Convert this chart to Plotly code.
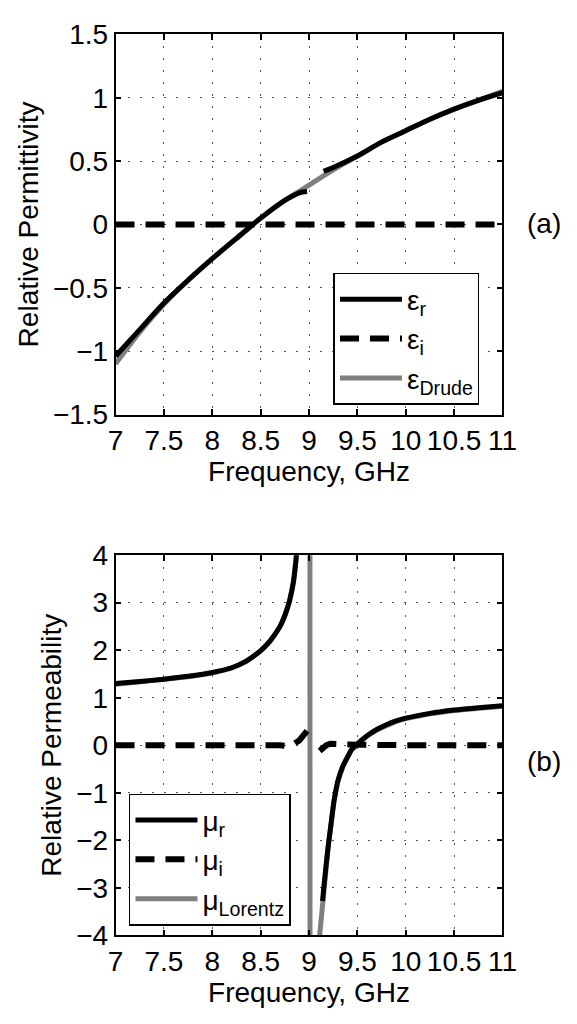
import plotly.graph_objects as go

# ---------------- data: (a) permittivity ----------------
freq_drude = [7.0, 7.25, 7.5, 7.75, 8.0, 8.25, 8.5, 8.75, 9.0, 9.25, 9.5, 9.75, 10.0, 10.25, 10.5, 10.75, 11.0]
eps_drude = [-1.10, -0.85, -0.63, -0.44, -0.27, -0.11, 0.05, 0.19, 0.31, 0.43, 0.54, 0.65, 0.74, 0.83, 0.91, 0.98, 1.05]

freq_eps_r = [7.0, 7.25, 7.5, 7.75, 8.0, 8.25, 8.5, 8.75, 8.9, 8.98, None,
              9.15, 9.25, 9.5, 9.75, 10.0, 10.25, 10.5, 10.75, 11.0]
eps_r = [-1.04, -0.83, -0.62, -0.44, -0.27, -0.11, 0.05, 0.19, 0.25, 0.26, None,
         0.42, 0.45, 0.54, 0.65, 0.74, 0.83, 0.91, 0.98, 1.04]

freq_eps_i = [7.0, 8.0, 9.0, 10.0, 11.0]
eps_i = [0.0, 0.0, 0.0, 0.0, 0.0]

# ---------------- data: (b) permeability ----------------
freq_mu_r = [7.0, 7.25, 7.5, 7.75, 8.0, 8.2, 8.35, 8.5, 8.6, 8.7, 8.75, 8.8, 8.84, 8.87, 8.89, None,
             9.14, 9.16, 9.18, 9.2, 9.22, 9.26, 9.3, 9.35, 9.4, 9.44, 9.5, 9.6, 9.7, 9.8, 9.9,
             10.0, 10.25, 10.5, 10.75, 11.0]
mu_r = [1.30, 1.34, 1.39, 1.45, 1.53, 1.63, 1.77, 1.99, 2.20, 2.50, 2.73, 3.05, 3.45, 4.0, 4.6, None,
        -3.28, -2.85, -2.46, -2.10, -1.78, -1.15, -0.74, -0.44, -0.24, -0.09, 0.03, 0.20, 0.33, 0.43, 0.51,
        0.57, 0.67, 0.74, 0.79, 0.83]

freq_mu_lor = [7.0, 7.25, 7.5, 7.75, 8.0, 8.2, 8.35, 8.5, 8.6, 8.7, 8.75, 8.8, 8.84, 8.87, 8.95, 9.005,
               9.015, 9.07, 9.11, 9.14, 9.16, 9.18, 9.2, 9.22, 9.26, 9.3, 9.35, 9.4, 9.44, 9.5, 9.6,
               9.7, 9.8, 9.9, 10.0, 10.25, 10.5, 10.75, 11.0]
mu_lor = [1.28, 1.33, 1.38, 1.44, 1.52, 1.62, 1.76, 1.98, 2.19, 2.49, 2.72, 3.04, 3.45, 4.0, 9.0, 80.0,
          -80.0, -9.0, -4.0, -3.3, -2.86, -2.47, -2.11, -1.79, -1.16, -0.75, -0.45, -0.25, -0.10, 0.02, 0.19,
          0.32, 0.42, 0.50, 0.56, 0.66, 0.73, 0.78, 0.82]

freq_mu_i = [7.0, 7.5, 8.0, 8.5, 8.6, 8.7, 8.78, 8.84, 8.9, 8.95, 8.98, None,
             9.11, 9.14, 9.18, 9.22, 9.3, 9.5, 10.0, 10.5, 11.0]
mu_i = [0.0, 0.0, 0.0, 0.01, 0.02, 0.0, -0.02, 0.02, 0.10, 0.20, 0.30, None,
        -0.12, -0.06, 0.0, 0.03, 0.02, 0.01, 0.0, 0.0, 0.0]

x_ticks = [7, 7.5, 8, 8.5, 9, 9.5, 10, 10.5, 11]
x_ticklabels = ["7", "7.5", "8", "8.5", "9", "9.5", "10", "10.5", "11"]
eps_ticks = [-1.5, -1, -0.5, 0, 0.5, 1, 1.5]
mu_ticks = [-4, -3, -2, -1, 0, 1, 2, 3, 4]

FONT = "Liberation Sans, Arial, Helvetica, sans-serif"
GREY = "#7f7f7f"
DASH = "19px,11px"
FS = 28

fig = go.Figure()

# (a)
fig.add_trace(go.Scatter(x=freq_drude, y=eps_drude, mode="lines", name="ε<sub>Drude</sub>",
                         line=dict(color=GREY, width=5, shape="spline", smoothing=0.8),
                         xaxis="x", yaxis="y", legend="legend", legendrank=3))
fig.add_trace(go.Scatter(x=freq_eps_r, y=eps_r, mode="lines", name="ε<sub>r</sub>",
                         line=dict(color="black", width=5, shape="spline", smoothing=0.8),
                         connectgaps=False, xaxis="x", yaxis="y", legend="legend", legendrank=1))
fig.add_trace(go.Scatter(x=freq_eps_i, y=eps_i, mode="lines", name="ε<sub>i</sub>",
                         line=dict(color="black", width=6, dash=DASH),
                         xaxis="x", yaxis="y", legend="legend", legendrank=2))

# (b)
fig.add_trace(go.Scatter(x=freq_mu_lor, y=mu_lor, mode="lines", name="μ<sub>Lorentz</sub>",
                         line=dict(color=GREY, width=5),
                         xaxis="x2", yaxis="y2", legend="legend2", legendrank=3))
fig.add_trace(go.Scatter(x=freq_mu_r, y=mu_r, mode="lines", name="μ<sub>r</sub>",
                         line=dict(color="black", width=5, shape="spline", smoothing=0.6),
                         connectgaps=False, xaxis="x2", yaxis="y2", legend="legend2", legendrank=1))
fig.add_trace(go.Scatter(x=freq_mu_i, y=mu_i, mode="lines", name="μ<sub>i</sub>",
                         line=dict(color="black", width=6, dash=DASH), connectgaps=False,
                         xaxis="x2", yaxis="y2", legend="legend2", legendrank=2))

W, H = 577, 1024
xd = [112 / W, 515 / W]
yd_top = [1 - 412 / H, 1 - 20 / H]
yd_bot = [1 - 949 / H, 1 - 557 / H]

axis_common = dict(
    showline=True, linecolor="black", linewidth=1.5, mirror="ticks",
    ticks="inside", ticklen=6, tickwidth=1.5, tickcolor="black",
    showgrid=True, gridcolor="#555555", gridwidth=1, griddash="2px,10px",
    zeroline=False, tickfont=dict(family=FONT, size=FS, color="black"),
)

legend_common = dict(xanchor="left", yanchor="top", bgcolor="white", bordercolor="black",
                     borderwidth=1.5, font=dict(family=FONT, size=FS, color="black"),
                     tracegroupgap=0, itemwidth=62)

fig.update_layout(
    width=W, height=H, margin=dict(l=0, r=0, t=0, b=0),
    paper_bgcolor="white", plot_bgcolor="white",
    font=dict(family=FONT, size=FS, color="black"),
    showlegend=True,
    xaxis=dict(domain=xd, range=[7, 11], tickvals=x_ticks, ticktext=x_ticklabels, anchor="y",
               title=dict(text="Frequency, GHz", font=dict(family=FONT, size=FS), standoff=4), **axis_common),
    yaxis=dict(domain=yd_top, range=[-1.5, 1.5], tickvals=eps_ticks, anchor="x",
               title=dict(text="Relative Permittivity", font=dict(family=FONT, size=FS), standoff=6), **axis_common),
    xaxis2=dict(domain=xd, range=[7, 11], tickvals=x_ticks, ticktext=x_ticklabels, anchor="y2",
                title=dict(text="Frequency, GHz", font=dict(family=FONT, size=FS), standoff=4), **axis_common),
    yaxis2=dict(domain=yd_bot, range=[-4, 4], tickvals=mu_ticks, anchor="x2",
                title=dict(text="Relative Permeability", font=dict(family=FONT, size=FS), standoff=6), **axis_common),
    legend=dict(x=339 / W, y=1 - 266 / H, **legend_common),
    legend2=dict(x=126 / W, y=1 - 803 / H, **legend_common),
    annotations=[
        dict(text="(a)", x=558 / W, y=1 - 215 / H, xref="paper", yref="paper",
             showarrow=False, font=dict(family=FONT, size=FS), xanchor="center", yanchor="middle"),
        dict(text="(b)", x=558 / W, y=1 - 770 / H, xref="paper", yref="paper",
             showarrow=False, font=dict(family=FONT, size=FS), xanchor="center", yanchor="middle"),
    ],
)

fig.write_html("out.html")
